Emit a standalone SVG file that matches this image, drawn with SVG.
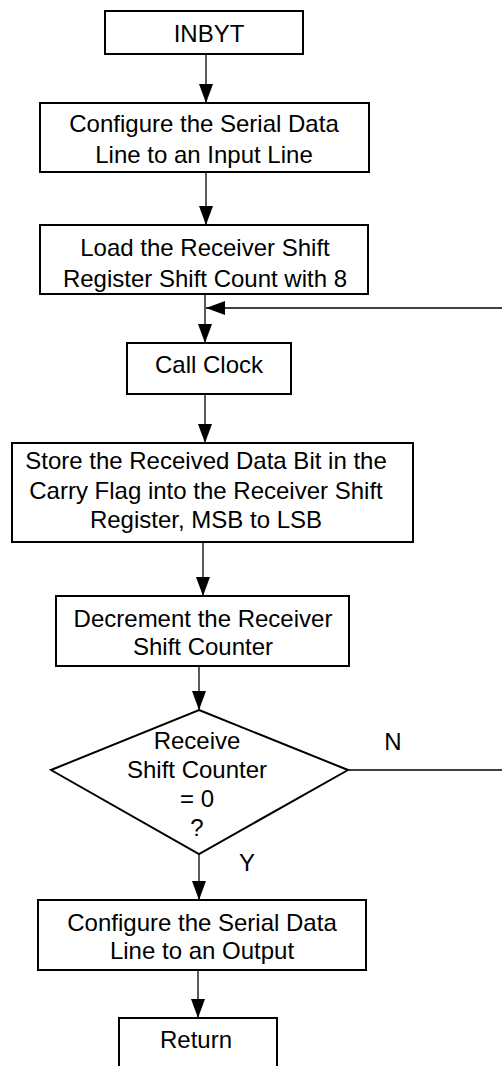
<svg xmlns="http://www.w3.org/2000/svg" width="502" height="1066" viewBox="0 0 502 1066">
<style>
.box{fill:#fff;stroke:#000;stroke-width:2}
.t{font-family:"Liberation Sans",Arial,sans-serif;font-size:24px;fill:#000;text-anchor:middle}
.c{stroke:#000;stroke-width:1.3;fill:none}
</style>
<defs>
<marker id="ah" markerUnits="userSpaceOnUse" markerWidth="20" markerHeight="14" refX="19" refY="7" orient="auto">
<path d="M0,0 L19,7 L0,14 Z" fill="#000"/>
</marker>
</defs>
<rect width="502" height="1066" fill="#fff"/>
<g id="connectors">
<line class="c" x1="206" y1="54" x2="206" y2="103" marker-end="url(#ah)"/>
<line class="c" x1="206" y1="172" x2="206" y2="225" marker-end="url(#ah)"/>
<line class="c" x1="205" y1="294" x2="205" y2="343" marker-end="url(#ah)"/>
<line class="c" x1="502" y1="308" x2="206" y2="308" marker-end="url(#ah)"/>
<line class="c" x1="205" y1="394" x2="205" y2="443" marker-end="url(#ah)"/>
<line class="c" x1="203" y1="542" x2="203" y2="596" marker-end="url(#ah)"/>
<line class="c" x1="199" y1="666" x2="199" y2="710" marker-end="url(#ah)"/>
<line class="c" x1="348" y1="770" x2="502" y2="770"/>
<line class="c" x1="199" y1="854" x2="199" y2="900" marker-end="url(#ah)"/>
<line class="c" x1="198" y1="970" x2="198" y2="1018" marker-end="url(#ah)"/>
<text class="t" x="393" y="750">N</text>
<text class="t" x="247" y="871">Y</text>
</g>
<g id="inbyt">
<rect class="box" x="105" y="11" width="198" height="43"/>
<text class="t" x="209" y="42">INBYT</text>
</g>
<g id="config-input">
<rect class="box" x="40" y="103" width="329" height="69"/>
<text class="t" x="204" y="132">Configure the Serial Data</text>
<text class="t" x="204" y="163">Line to an Input Line</text>
</g>
<g id="load-count">
<rect class="box" x="40" y="225" width="328" height="69"/>
<text class="t" x="205" y="256">Load the Receiver Shift</text>
<text class="t" x="205" y="287">Register Shift Count with 8</text>
</g>
<g id="call-clock">
<rect class="box" x="127" y="343" width="164" height="51"/>
<text class="t" x="209" y="373">Call Clock</text>
</g>
<g id="store-bit">
<rect class="box" x="12" y="443" width="401" height="99"/>
<text class="t" x="206" y="469">Store the Received Data Bit in the</text>
<text class="t" x="206" y="499">Carry Flag into the Receiver Shift</text>
<text class="t" x="206" y="528">Register, MSB to LSB</text>
</g>
<g id="decrement">
<rect class="box" x="56" y="596" width="293" height="70"/>
<text class="t" x="203" y="627">Decrement the Receiver</text>
<text class="t" x="203" y="655">Shift Counter</text>
</g>
<g id="decision">
<polygon class="box" points="199,710 348,770 199,854 51,770"/>
<text class="t" x="197" y="749">Receive</text>
<text class="t" x="197" y="778">Shift Counter</text>
<text class="t" x="197" y="807">= 0</text>
<text class="t" x="197" y="836">?</text>
</g>
<g id="config-output">
<rect class="box" x="38" y="900" width="328" height="70"/>
<text class="t" x="202" y="931">Configure the Serial Data</text>
<text class="t" x="202" y="959">Line to an Output</text>
</g>
<g id="return">
<rect class="box" x="119" y="1018" width="158" height="60"/>
<text class="t" x="196" y="1048">Return</text>
</g>
</svg>
